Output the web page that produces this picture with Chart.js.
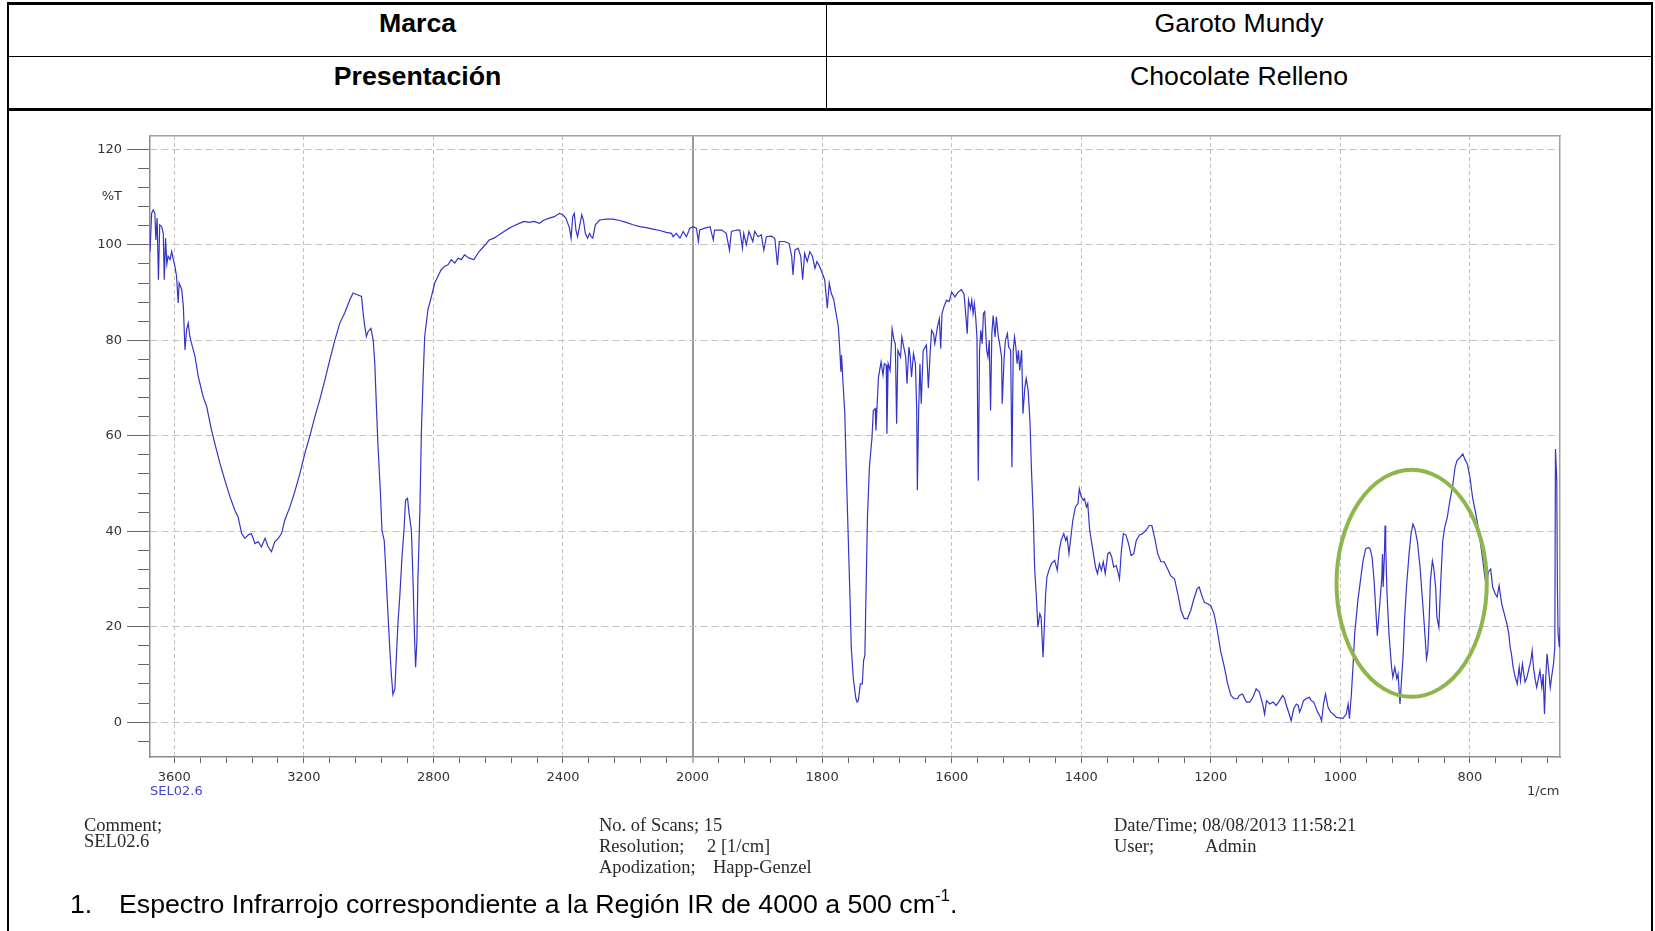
<!DOCTYPE html>
<html><head><meta charset="utf-8">
<script src="https://cdn.jsdelivr.net/npm/chart.js@4.4.1/dist/chart.umd.min.js"></script>
<style>
html,body{margin:0;padding:0;background:#fff;}
body{width:1655px;height:931px;overflow:hidden;position:relative;font-family:"Liberation Sans",Arial,sans-serif;}
.ln{position:absolute;background:#000;}
.t{position:absolute;white-space:pre;line-height:1.15;}
.hd{font-size:26.7px;color:#000;transform:translate(-50%,-50%);}
.sf{font-family:"Liberation Serif","Times New Roman",serif;font-size:18.5px;color:#2a2a2a;transform:translateY(-50%);}
.ax{font-family:"DejaVu Sans",sans-serif;font-size:13px;transform:translateY(-50%);}
</style></head><body>
<div class="ln" style="left:7px;top:2px;width:1646px;height:3px"></div>
<div class="ln" style="left:7px;top:2px;width:2px;height:960px"></div>
<div class="ln" style="left:1651px;top:2px;width:2px;height:960px"></div>
<div class="ln" style="left:7px;top:56px;width:1646px;height:1px"></div>
<div class="ln" style="left:7px;top:108px;width:1646px;height:3px"></div>
<div class="ln" style="left:826px;top:2px;width:1px;height:108px"></div>

<div class="t hd" style="left:417.5px;top:23px;font-weight:bold">Marca</div>
<div class="t hd" style="left:1239px;top:23px">Garoto Mundy</div>
<div class="t hd" style="left:417.5px;top:76px;font-weight:bold">Presentación</div>
<div class="t hd" style="left:1239px;top:76px">Chocolate Relleno</div>

<canvas id="c" width="1655" height="700" style="position:absolute;left:0;top:120px;width:1655px;height:700px"></canvas>

<div class="t ax" style="left:150px;top:791px;color:#4545c8">SEL02.6</div>
<div class="t ax" style="left:1527px;top:791px;color:#333">1/cm</div>

<div class="t sf" style="left:84px;top:826px">Comment;</div>
<div class="t sf" style="left:84px;top:842px">SEL02.6</div>
<div class="t sf" style="left:599px;top:826px">No. of Scans; 15</div>
<div class="t sf" style="left:599px;top:847px">Resolution;</div>
<div class="t sf" style="left:707px;top:847px">2 [1/cm]</div>
<div class="t sf" style="left:599px;top:868px">Apodization;</div>
<div class="t sf" style="left:713px;top:868px">Happ-Genzel</div>
<div class="t sf" style="left:1114px;top:826px">Date/Time; 08/08/2013 11:58:21</div>
<div class="t sf" style="left:1114px;top:847px">User;</div>
<div class="t sf" style="left:1205px;top:847px">Admin</div>

<div class="t" style="left:70px;top:904px;font-size:26.7px;transform:translateY(-50%)">1.</div>
<div class="t" style="left:119px;top:904px;font-size:26.7px;transform:translateY(-50%)">Espectro Infrarrojo correspondiente a la Región IR de 4000 a 500 cm<sup style="font-size:17px;vertical-align:12px;line-height:0">-1</sup>.</div>

<script>
// ---- data (wavenumber in 1/cm, transmittance in %T) ----
const WAVENUMBER = [
3675,3670,3665,3660,3657,3653,3649,3645,3639,3634,3631,3627,3623,3619,3613,3608,3603,3598,3593,3588,
3585,3577,3572,3567,3562,3557,3552,3547,3536,3526,3521,3511,3500,3485,3475,3459,3444,3428,3413,3403,
3392,3382,3372,3362,3351,3341,3331,3320,3310,3300,3290,3279,3269,3259,3243,3228,3212,3197,3182,3166,
3151,3135,3120,3104,3089,3074,3058,3048,3033,3022,3017,3012,3007,3002,2993,2986,2981,2976,2971,2963,
2959,2952,2948,2942,2935,2930,2925,2919,2914,2909,2904,2897,2891,2886,2880,2875,2868,2863,2858,2855,
2851,2848,2842,2837,2832,2827,2817,2806,2796,2786,2776,2765,2755,2745,2734,2724,2714,2704,
2690,2675,2659,2644,2628,2613,2597,2582,2566,2551,2535,2520,2504,2489,2473,2458,2442,2427,2411,2401,
2391,2380,2375,2370,2365,2360,2355,2349,2342,2337,2331,2324,2318,2313,2308,2300,2287,2267,2246,2225,
2205,2184,2163,2143,2122,2101,2081,2065,2060,2050,2039,2029,2019,2008,1999,1994,1991,1989,1981,1973,
1968,1966,1955,1948,1943,1940,1932,1927,1923,1921,1917,1913,1907,1904,1899,1894,1890,1886,1878,1873,
1869,1866,1858,1851,1847,1845,1842,1837,1833,1830,1827,1823,1819,1815,1811,1808,1804,1800,1796,1792,
1789,1786,1782,1779,1775,1773,1771,1770,1768,1765,1763,1760,1757,1755,1752,1748,1746,1744,1741,
1738,1736,1734,1732,1730,1727,1723,1721,1718,1717,1715,1713,1709,1706,1704,1701,1700,1698,1695,1692,
1689,1687,1685,1683,1679,1677,1674,1671,1669,1666,1664,1662,1659,1656,1654,1653,1651,1649,1647,1644,
1639,1636,1633,1631,1628,1626,1622,1619,1617,1615,1612,1608,1604,1600,1595,1590,1585,1581,1578,1576,
1574,1571,1569,1567,1565,1563,1561,1559,1557,1555,1553,1551,1549,1546,1544,1542,1540,1538,1536,1533,
1531,1528,1526,1523,1522,1519,1517,1514,1512,1509,1507,1505,1503,1501,1499,1497,1495,1492,1490,1487,
1485,1482,1479,1477,1474,1472,1469,1467,1464,1462,1459,1457,1455,1453,1450,1446,1441,1437,1434,1431,
1427,1424,1422,1419,1416,1413,1409,1405,1403,1400,1397,1395,1392,1390,1387,1382,1378,1375,1372,1369,
1366,1363,1359,1356,1353,1350,1346,1344,1341,1338,1335,1331,1327,1323,1319,1315,1310,1305,1300,1295,
1291,1287,1282,1277,1272,1267,1262,1256,1251,1246,1241,1236,1231,1226,1221,1218,1214,1210,1205,1200,
1195,1190,1185,1179,1174,1169,1164,1159,1156,
1151,1145,1140,1135,1130,1125,1120,1117,1114,1109,1104,1099,1094,1089,1086,1084,1079,1076,1072,1068,
1065,1063,1060,1057,1053,1048,1045,1041,1038,1035,1032,1029,1026,1023,1019,1015,1011,1006,1001,996,
991,988,986,983,980,978,975,973,969,965,961,957,954,951,948,945,943,940,938,936,
935,934,932,931,930,928,925,921,919,916,913,911,908,906,903,901,898,894,891,888,
885,881,877,874,871,867,865,863,861,858,856,853,851,848,845,842,839,835,831,827,
823,820,815,811,808,804,800,796,792,789,785,780,777,774,772,768,765,761,758,755,
751,747,743,740,738,736,733,730,727,724,722,719,715,712,709,706,704,702,699,697,
694,692,689,687,685,683,681,678,676,674,671,669,668,666,665,664,662,661
];
const TRANSMITTANCE = [
98.6,106.6,107.3,106.6,101,105.6,92.7,104.2,103.8,102.4,92.7,101.4,96,97.6,96.9,98.6,96.9,95.5,93.4,87.8,
92,90.6,87,78,82.2,83.6,80.8,79.4,76.6,72.4,71,68.2,66.1,61.2,58.4,54.2,50.7,47.2,44.4,43,
39.5,38.5,39.2,39.5,37.4,37.8,36.7,38.5,36.7,35.7,37.8,38.5,39.5,42.3,45.1,48.3,52.1,56.3,59.8,64,
67.5,71.7,75.9,80.1,83.6,85.7,88.5,89.9,89.5,89.2,85.7,82.9,80.8,81.8,82.5,80.1,75.2,66.1,57.7,47.2,
40.2,38.1,33.2,24.8,15.7,10.1,5.8,7,14.3,21.3,26.2,34.6,40.2,46.5,46.9,43.7,40.2,29.7,17.1,11.5,
17.1,29.7,43.7,61.2,71.7,80.8,86.4,89.2,92,93.4,94.8,95.5,95.8,96.9,96.2,97.2,96.9,97.9,
97.2,96.9,98.6,99.7,101,101.4,102.1,102.8,103.5,104,104.5,104.9,104.7,104.9,104.5,105.2,105.6,105.9,106.6,106.3,
105.6,103.5,101.4,105.9,106.6,103.1,101.7,103.8,106.3,105.2,102.4,101.4,102.4,101.7,101.4,104.2,105.2,105.4,105.4,105.1,
104.7,104.2,103.8,103.6,103.3,103,102.6,102.4,101.7,102.4,101.4,102.8,101.7,103.5,103.8,103.5,100.7,103.1,103.5,103.8,
101,103.1,103.1,102.4,98.9,102.8,103.1,103.1,99.3,102.4,100,102.8,100.7,102.8,101.7,102.1,98.9,101.7,101.8,101.3,
95.8,100.7,100.7,100.3,97.6,93.7,98.9,99.3,97.6,92.7,98.2,96.5,98.6,97.6,95.1,96.5,95.5,94.1,92.7,86.7,
92,89.9,88.5,86,82.9,78.7,73.4,76.9,71.7,64.7,54.2,40.2,26.2,15.7,9.4,5,4.2,4.6,8,
8,12.9,14,29,43,53.4,59.7,65.3,65.7,61.1,66.7,72.3,75.5,72.7,75.1,74.8,60.4,75.1,73.7,82.4,
80,79.3,62.5,77.9,76.5,80.7,78.6,76.5,70.9,78.6,76.5,72.3,77.2,75.1,65.3,48.6,65.3,75.1,66.7,77.9,
79,70,77.9,82.1,81.4,79.3,82.8,84.5,78.3,85.6,87,88.4,88.1,90.1,89.1,90.1,90.6,89.7,84.9,81.4,
88.4,86.6,88.4,85.6,87.7,84.9,80.7,50.6,77.9,82.1,79.3,85.6,86,77.9,76.5,80,65.3,81.4,85.2,80.7,
84.9,80.7,79.3,76.5,66.7,76.5,80,81.4,78.6,77.9,53.4,77.9,80.7,78.6,75.1,77.9,73.7,77.9,64.6,70.2,
72,69.5,62.5,53.4,43,32.5,25.5,19.9,22.7,22,13.6,19.9,26.9,30.4,31.8,33.2,33.9,31.8,36,38.1,
39.5,38.1,38.8,35.3,38.8,42.3,45.1,45.8,48.9,47.2,46.5,46.8,45.1,45.8,40.2,36,32.5,31.1,33.2,31.8,
33.6,31.1,35.3,35.6,34.6,32.5,32.8,31.8,30,36,39.5,39.2,37.4,34.9,35.3,38.1,39.2,39.5,40.2,41.2,
41.2,38.8,35.3,33.6,33.6,32.2,30.7,30,26.9,23.4,21.7,21.7,23.4,25.9,28,28.3,26.6,25.1,24.8,24.4,
22.7,19.2,15,11.5,8,5.6,4.9,4.9,5.6,
5.9,4.2,4.2,5.2,7,6.3,3.8,1.7,4.5,3.8,4.2,3.5,4.5,5.6,4.9,3.8,1.7,0.3,2.8,3.8,
3.5,2.1,3.1,4.5,4.9,5.2,4.5,4.2,3.1,2.1,1.4,0.3,3.8,5.9,3.1,2.1,1.7,1,0.9,0.8,
1.7,3.8,0.7,5.9,12.9,18.5,22.7,25.5,29.7,33.8,36.3,36.6,36.3,34.5,29.7,22.7,18.1,23.4,26.9,30.4,
35.2,28.3,35.2,41.2,36.6,26.9,18.5,11.5,9.4,11.5,9.1,10.1,3.8,8,14.3,21.3,28.3,35.2,39.4,41.5,
40.5,37.7,32.4,26.9,21.3,13.3,14.9,21.3,29.7,33.8,32.4,28.3,22,19.9,29.7,38,40.8,42.9,46.4,49.2,
53.4,54.8,55.5,56.2,55.1,54.1,51.3,47.1,44.3,42.2,38.7,33.8,30.4,28.3,31.4,32.1,28.3,26.9,26.2,28.6,
24.8,22.7,20.6,18.5,15.7,14.3,11.2,9.4,8,11.5,8.7,12.2,8.4,9.4,11.2,12.9,15,11.5,8.7,7.3,
9.4,10.8,7.3,10.1,1.7,9.4,14.3,10.1,7.3,9.4,12.2,15.7,57.2,50.6,28.3,18.5,15.7,19.9
];
const X_TICK_LABELS = [3600, 3200, 2800, 2400, 2000, 1800, 1600, 1400, 1200, 1000, 800];
const Y_TICK_LABELS = [0, 20, 40, 60, 80, 100, 120];
const Y_UNIT_LABEL = '%T';
const Y_UNIT_AT = 110;
const X_MIN = 661, X_MAX = 3675;
const Y_MIN = -7.3, Y_MAX = 122.8;
const SCALE_BREAK = 2000;          // above this wavenumber the axis is compressed 2:1
const HIGHLIGHT = { wFrom: 1006, wTo: 774, tFrom: 52.9, tTo: 5.3 }; // green ellipse bounding box

// ---- piecewise (compressed above 2000) wavenumber scale ----
function warp(w) { return w > SCALE_BREAK ? SCALE_BREAK + (w - SCALE_BREAK) / 2 : w; }
function unwarp(u) { return u > SCALE_BREAK ? SCALE_BREAK + (u - SCALE_BREAK) * 2 : u; }
class WavenumberScale extends Chart.LinearScale {
  getPixelForValue(value) {
    const a = warp(this.min), b = warp(this.max);
    return this.getPixelForDecimal((warp(value) - a) / (b - a));
  }
  getValueForPixel(pixel) {
    const a = warp(this.min), b = warp(this.max);
    return unwarp(a + this.getDecimalForPixel(pixel) * (b - a));
  }
}
WavenumberScale.id = 'wavenumber';
WavenumberScale.defaults = {};
Chart.register(WavenumberScale);

function xTicks() {
  const v = [];
  for (let w = 2080; w <= 3600; w += 80) v.push(w);
  v.push(SCALE_BREAK);
  for (let w = 680; w < 2000; w += 40) v.push(w);
  return v;
}
function yTicks() {
  const v = [];
  for (let t = -4; t <= 120; t += 4) v.push(t);
  v.push(Y_UNIT_AT);
  return v;
}

const ellipsePlugin = {
  id: 'highlight',
  afterDatasetsDraw(chart) {
    const { ctx, scales: { x, y } } = chart;
    const x0 = x.getPixelForValue(HIGHLIGHT.wFrom), x1 = x.getPixelForValue(HIGHLIGHT.wTo);
    const y0 = y.getPixelForValue(HIGHLIGHT.tFrom), y1 = y.getPixelForValue(HIGHLIGHT.tTo);
    ctx.save();
    ctx.strokeStyle = '#8fb64c';
    ctx.lineWidth = 4;
    ctx.beginPath();
    ctx.ellipse((x0 + x1) / 2, (y0 + y1) / 2, Math.abs(x1 - x0) / 2, Math.abs(y1 - y0) / 2, 0, 0, Math.PI * 2);
    ctx.stroke();
    ctx.restore();
  }
};

const tickFont = { family: 'DejaVu Sans', size: 13 };
const clear = 'rgba(0,0,0,0)';

new Chart(document.getElementById('c'), {
  type: 'line',
  data: {
    datasets: [{
      data: WAVENUMBER.map((w, i) => ({ x: w, y: TRANSMITTANCE[i] })),
      borderColor: '#3434c8',
      borderWidth: 1.2,
      pointRadius: 0,
      fill: false,
      tension: 0
    }]
  },
  options: {
    responsive: false,
    animation: false,
    events: [],
    layout: { padding: { left: 90, right: 95, top: 16, bottom: 23 } },
    plugins: { legend: { display: false }, tooltip: { enabled: false } },
    scales: {
      x: {
        type: 'wavenumber', position: 'bottom', reverse: true, min: X_MIN, max: X_MAX,
        afterBuildTicks: s => { s.ticks = xTicks().map(v => ({ value: v })); },
        afterFit: s => { s.height = 40; },
        ticks: {
          autoSkip: false, maxRotation: 0, minRotation: 0, padding: 7, color: '#333', font: tickFont,
          callback: v => X_TICK_LABELS.includes(v) ? String(v) : ''
        },
        grid: {
          color: c => c.tick && X_TICK_LABELS.includes(c.tick.value) ? (c.tick.value === SCALE_BREAK ? '#9a9a9a' : '#c2c2c2') : clear,
          lineWidth: c => c.tick && c.tick.value === SCALE_BREAK ? 2 : 1,
          tickColor: '#666', tickWidth: 1, tickLength: 6
        },
        border: { display: true, color: '#8a8a8a', width: 1.5, dash: c => c.tick && c.tick.value === SCALE_BREAK ? [] : [4, 3] }
      },
      y: {
        type: 'linear', position: 'left', min: Y_MIN, max: Y_MAX,
        afterBuildTicks: s => { s.ticks = yTicks().map(v => ({ value: v })); },
        afterFit: s => { s.width = 60; },
        ticks: {
          autoSkip: false, padding: 5, color: '#333', font: tickFont,
          callback: v => Y_TICK_LABELS.includes(v) ? String(v) : (v === Y_UNIT_AT ? Y_UNIT_LABEL : '')
        },
        grid: {
          color: c => c.tick && Y_TICK_LABELS.includes(c.tick.value) ? '#c2c2c2' : clear,
          lineWidth: 1,
          tickColor: c => c.tick && c.tick.value === Y_UNIT_AT ? clear : '#666',
          tickWidth: 1, tickLength: 23,
          tickBorderDash: c => c.tick && !Y_TICK_LABELS.includes(c.tick.value) ? [0, 11, 12, 100] : []
        },
        border: { display: true, color: '#8a8a8a', width: 1.5, dash: [7, 4] }
      },
      xt: {
        type: 'linear', position: 'top', min: 0, max: 1,
        afterFit: s => { s.height = 0; },
        ticks: { display: false }, grid: { display: false, drawTicks: false },
        border: { display: true, color: '#a0a0a0', width: 1.5 }
      },
      yr: {
        type: 'linear', position: 'right', min: 0, max: 1,
        afterFit: s => { s.width = 0; },
        ticks: { display: false }, grid: { display: false, drawTicks: false },
        border: { display: true, color: '#a0a0a0', width: 1.5 }
      }
    }
  },
  plugins: [ellipsePlugin]
});
</script>
</body></html>
